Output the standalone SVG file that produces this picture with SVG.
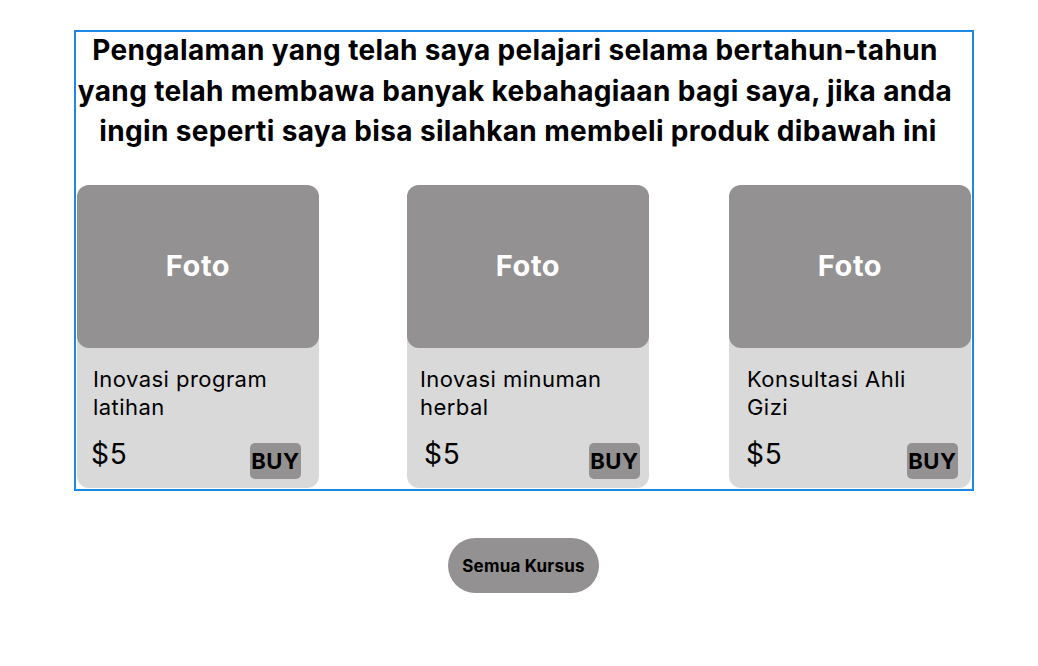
<svg xmlns="http://www.w3.org/2000/svg" width="1038" height="666" viewBox="0 0 1038 666">
<style>
.title{font-family:Inter,"Liberation Sans",sans-serif;font-weight:700;font-size:28px;letter-spacing:0.35px;fill:#000;text-anchor:middle}
.card{fill:#D9D9D9}
.photo{fill:#939191}
.foto{font-family:Inter,"Liberation Sans",sans-serif;font-weight:700;font-size:29px;letter-spacing:0.6px;fill:#fff;text-anchor:middle}
.name{font-family:Inter,"Liberation Sans",sans-serif;font-size:22px;letter-spacing:0.45px;fill:#000}
.price{font-family:Inter,"Liberation Sans",sans-serif;font-size:28px;letter-spacing:0.8px;fill:#000}
.buy{fill:#939191}
.buyt{font-family:Inter,"Liberation Sans",sans-serif;font-weight:700;font-size:22px;letter-spacing:0.6px;fill:#000;text-anchor:middle}
.btn{font-family:Inter,"Liberation Sans",sans-serif;font-weight:700;font-size:17px;letter-spacing:0.2px;fill:#000;text-anchor:middle}
</style>
<rect width="1038" height="666" fill="#fff"/>
<g id="title">
<text class="title" x="515" y="60">Pengalaman yang telah saya pelajari selama bertahun-tahun</text>
<text class="title" x="515" y="101">yang telah membawa banyak kebahagiaan bagi saya, jika anda</text>
<text class="title" x="518" y="141">ingin seperti saya bisa silahkan membeli produk dibawah ini</text>
</g>
<g id="card1">
<rect class="card" x="77" y="185" width="242" height="303" rx="12"/>
<rect class="photo" x="77" y="185" width="242" height="163" rx="12"/>
<text class="foto" x="198" y="276">Foto</text>
<text class="name" x="93" y="387">Inovasi program</text>
<text class="name" x="93" y="415">latihan</text>
<text class="price" x="91" y="464">$5</text>
<rect class="buy" x="250" y="443" width="51" height="36" rx="5"/>
<text class="buyt" x="275.5" y="469">BUY</text>
</g>
<g id="card2">
<rect class="card" x="407" y="185" width="242" height="303" rx="12"/>
<rect class="photo" x="407" y="185" width="242" height="163" rx="12"/>
<text class="foto" x="528" y="276">Foto</text>
<text class="name" x="420" y="387">Inovasi minuman</text>
<text class="name" x="420" y="415">herbal</text>
<text class="price" x="424" y="464">$5</text>
<rect class="buy" x="589" y="443" width="51" height="36" rx="5"/>
<text class="buyt" x="614.5" y="469">BUY</text>
</g>
<g id="card3">
<rect class="card" x="729" y="185" width="242" height="303" rx="12"/>
<rect class="photo" x="729" y="185" width="242" height="163" rx="12"/>
<text class="foto" x="850" y="276">Foto</text>
<text class="name" x="747" y="387">Konsultasi Ahli</text>
<text class="name" x="747" y="415">Gizi</text>
<text class="price" x="746" y="464">$5</text>
<rect class="buy" x="907" y="443" width="51" height="36" rx="5"/>
<text class="buyt" x="932.5" y="469">BUY</text>
</g>
<g id="frame">
<rect x="75" y="31" width="898" height="459" fill="none" stroke="#1E88E5" stroke-width="2"/>
</g>
<g id="semua-kursus">
<rect class="buy" x="448" y="538" width="151" height="55" rx="27.5"/>
<text class="btn" x="523.5" y="572">Semua Kursus</text>
</g>
<g id="connectors"></g>
</svg>
